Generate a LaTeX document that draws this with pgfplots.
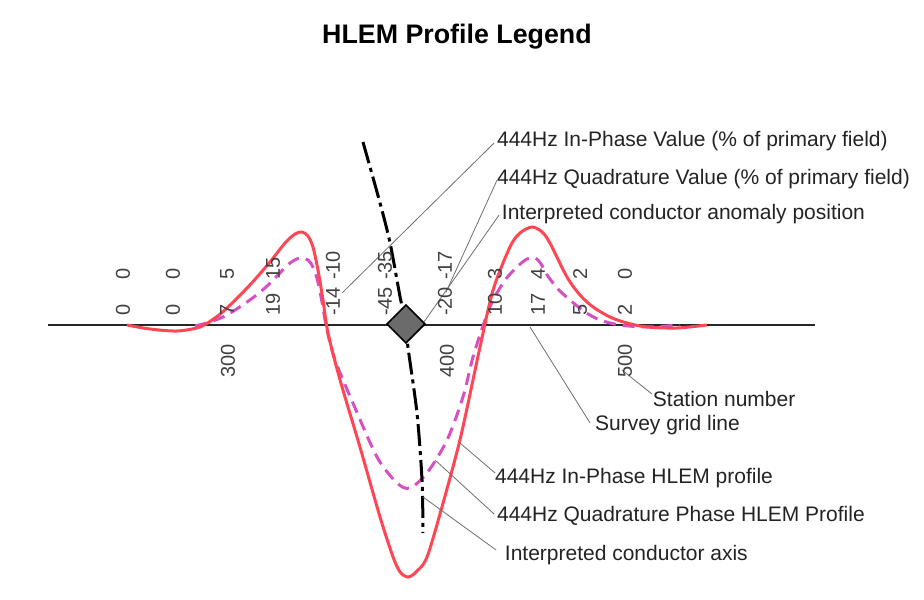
\documentclass[border=0pt]{standalone}
\usepackage{pgfplots}
\pgfplotsset{compat=1.18}
\usepackage{fontspec}
\setmainfont{Liberation Sans}
\definecolor{inred}{RGB}{255,70,85}
\definecolor{quadmag}{RGB}{214,80,196}
\definecolor{txt}{RGB}{35,35,35}
\definecolor{leader}{RGB}{110,110,110}
\begin{document}
\begin{tikzpicture}[
  lab/.style={font=\fontsize{10.5}{12}\selectfont, text=txt, inner sep=0pt, outer sep=0pt, anchor=west},
  num/.style={font=\fontsize{10}{12}\selectfont, text=black!75, inner sep=0pt, outer sep=0pt, rotate=90},
]
\begin{axis}[
  width=462pt, height=299.5pt, scale only axis,
  xmin=188.75, xmax=648.9, ymin=-54.8, ymax=65,
  hide axis, clip=false,
]
\path (rel axis cs:0,0) rectangle (rel axis cs:1,1);
% survey grid line
\addplot[black!85, line width=0.8pt] coordinates {(212.6,0) (594.6,0)};
% quadrature profile
\addplot[quadmag, line width=1.5pt, dash pattern=on 6pt off 3.5pt, smooth, tension=0.5] coordinates {
(285.9,-0.2) (293.3,0.6) (301.8,2.0) (313.2,5.0) (320.7,7.4) (326.7,9.8) (333.2,12.4) (338.1,13.4)
(342.1,13.0) (344.6,11.6) (347.1,8.6) (349.1,4.6) (351.6,-1.0) (355.6,-7.0) (364.5,-15.6)
(376.5,-26.4) (386.5,-31.6) (392.9,-32.6) (401.4,-29.6) (411.4,-23.0) (419.3,-14.4) (424.3,-6.4)
(430.3,1.0) (434.3,5.0) (440.3,9.0) (446.2,11.6) (451.2,13.2) (455.2,13.4) (458.2,12.2)
(461.2,10.0) (466.6,7.2) (472.6,5.0) (480.1,2.6) (487.5,1.0) (497.5,0) (511.0,-0.4) (527.4,0)};
% in-phase profile
\addplot[inred, line width=1.5pt, smooth, tension=0.5] coordinates {
(252.0,0) (263.4,-0.8) (276.9,-1.2) (288.3,-0.4) (295.8,1.4) (301.8,3.4) (313.2,8.0) (323.2,12.6)
(330.7,16.4) (335.7,18.2) (339.1,18.6) (342.1,17.8) (344.6,15.6) (347.1,11.0) (349.6,5.0)
(352.1,-1.6) (358.1,-11.0) (368.0,-24.4) (378.0,-38.4) (384.5,-46.4) (388.0,-49.4) (391.9,-50.4)
(395.9,-49.4) (401.4,-46.4) (409.4,-35.6) (417.8,-23.0) (424.3,-11.0) (427.8,-4.4) (434.3,7.0)
(442.7,15.6) (447.7,18.4) (453.7,19.6) (458.7,18.6) (462.6,16.4) (471.1,9.6) (477.6,6.0)
(484.1,3.6) (492.5,1.6) (501.0,0.4) (511.0,-0.4) (525.9,-0.6) (540.8,0)};
% anomaly position
\addplot[only marks, mark=square*, mark size=6.7pt, mark options={rotate=45, fill=black!58, draw=black, line width=0.8pt}] coordinates {(390.9,0.2)};
% conductor axis
\addplot[black, line width=1.5pt, smooth, dash pattern=on 11pt off 2.5pt on 2pt off 2.5pt] coordinates {
(369.5,36.6) (378.0,24.4) (383.0,16.4) (388.0,5.6) (390.9,0.2) (391.9,-4.4) (396.4,-17.6) (398.9,-31.0) (399.4,-41.6)};
% leaders
\draw[leader, line width=0.4pt] (axis cs:434.8,36.4) -- (axis cs:359.1,6.4);
\draw[leader, line width=0.4pt] (axis cs:436.3,29.0) -- (axis cs:410.9,6.6);
\draw[leader, line width=0.4pt] (axis cs:437.3,22.0) -- (axis cs:399.9,0.6);
\draw[leader, line width=0.4pt] (axis cs:498.5,-9.0) -- (axis cs:513.4,-13.8);
\draw[leader, line width=0.4pt] (axis cs:452.7,-0.4) -- (axis cs:482.6,-19.6);
\draw[leader, line width=0.4pt] (axis cs:417.8,-23.6) -- (axis cs:435.3,-29.6);
\draw[leader, line width=0.4pt] (axis cs:405.4,-27.0) -- (axis cs:434.8,-37.8);
\draw[leader, line width=0.4pt] (axis cs:399.4,-34.4) -- (axis cs:435.8,-45.0);
% labels
\node[lab] at (axis cs:436.3,36.8) {444Hz In-Phase Value (\% of primary field)};
\node[lab] at (axis cs:436.3,29.2) {444Hz Quadrature Value (\% of primary field)};
\node[lab] at (axis cs:438.7,22.2) {Interpreted conductor anomaly position};
\node[lab] at (axis cs:513.9,-14.8) {Station number};
\node[lab] at (axis cs:485.1,-20) {Survey grid line};
\node[lab] at (axis cs:435.3,-30.6) {444Hz In-Phase HLEM profile};
\node[lab] at (axis cs:436.3,-38.2) {444Hz Quadrature Phase HLEM Profile};
\node[lab] at (axis cs:440.2,-46) {Interpreted conductor axis};
\node[font=\fontsize{13.4}{16}\selectfont\bfseries, text=black, inner sep=0pt] at (axis cs:416.3,57.6) {HLEM Profile Legend};
% station numbers
\foreach \s/\l in {302.3/300, 411.4/400, 500/500} {
  \edef\tmp{\noexpand\node[num, anchor=east] at (axis cs:\s,-3.8) {\l};}\tmp
}
% value labels: quadrature (top) and in-phase (bottom)
\foreach \s/\q/\p in {250.0/0/0, 274.9/0/0, 301.8/5/7, 324.7/15/19, 354.6/-10/-14, 380.5/-35/-45, 410.4/-17/-20, 435.3/3/10, 456.7/4/17, 477.6/2/5, 500.0/0/2} {
  \edef\tmp{\noexpand\node[num, anchor=west] at (axis cs:\s,9.0) {\q};
  \noexpand\node[num, anchor=west] at (axis cs:\s,1.8) {\p};}\tmp
}
\end{axis}
\end{tikzpicture}
\end{document}
